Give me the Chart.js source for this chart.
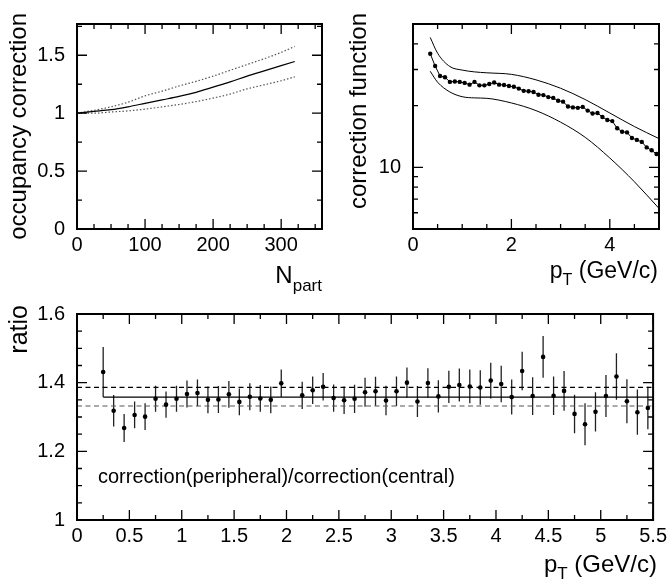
<!DOCTYPE html>
<html>
<head>
<meta charset="utf-8">
<title>Correction functions</title>
<script src="https://cdn.jsdelivr.net/npm/chart.js@4.4.1/dist/chart.umd.min.js"></script>
<style>
    html, body { margin: 0; padding: 0; background: #fff; }
    #page { position: relative; width: 671px; height: 581px; overflow: hidden; font-family: "Liberation Sans", Arial, sans-serif; color: #000; }
    canvas { position: absolute; }
    .label { position: absolute; line-height: 1; white-space: nowrap; }
    .sub { position: relative; }
    .vtitle { width: 250px; text-align: right; transform-origin: 0 0; transform: rotate(-90deg); }
</style>
</head>
<body>
<div id="page">
    <canvas id="occupancyChart" width="340" height="290" style="left:0;top:0"></canvas>
    <canvas id="correctionChart" width="331" height="290" style="left:340px;top:0"></canvas>
    <canvas id="ratioChart" width="671" height="291" style="left:0;top:290px"></canvas>

    <div class="label vtitle" style="left:6px;top:263px;font-size:24px">occupancy correction</div>
    <div class="label vtitle" style="left:346px;top:263px;font-size:24px">correction function</div>
    <div class="label vtitle" style="left:6px;top:555px;font-size:25px">ratio</div>

    <div class="label" style="right:349px;top:263px;font-size:24px">N<span class="sub" style="font-size:17px;top:8px">part</span></div>
    <div class="label" style="right:13px;top:259px;font-size:23px">p<span class="sub" style="font-size:16px;top:7px">T</span> (GeV/c)</div>
    <div class="label" style="right:14px;top:552px;font-size:24px">p<span class="sub" style="font-size:17px;top:7px">T</span> (GeV/c)</div>
    <div class="label" style="left:98px;top:466px;font-size:20px">correction(peripheral)/correction(central)</div>
</div>

<script>
// =========================
// Data
// =========================

// occupancy correction vs N_part
const nPart = [0, 25, 50, 75, 100, 125, 150, 175, 200, 225, 250, 275, 300, 320];
const occUpper = [1.0, 1.025, 1.055, 1.095, 1.15, 1.19, 1.235, 1.275, 1.32, 1.37, 1.42, 1.47, 1.525, 1.576];
const occCentral = [1.0, 1.015, 1.03, 1.055, 1.085, 1.115, 1.145, 1.18, 1.225, 1.27, 1.32, 1.365, 1.41, 1.446];
const occLower = [1.0, 1.0, 1.01, 1.02, 1.035, 1.055, 1.075, 1.10, 1.13, 1.165, 1.21, 1.245, 1.28, 1.314];
const occXTicks = [0, 100, 200, 300];
const occYTicks = [0, 0.5, 1, 1.5];

// correction function vs pT
const corrPt = [0.35, 0.45, 0.55, 0.65, 0.75, 0.85, 0.95,
    1.05, 1.15, 1.25, 1.35, 1.45, 1.55, 1.65, 1.75, 1.85, 1.95,
    2.05, 2.15, 2.25, 2.35, 2.45, 2.55, 2.65, 2.75, 2.85, 2.95,
    3.05, 3.15, 3.25, 3.35, 3.45, 3.55, 3.65, 3.75, 3.85, 3.95,
    4.05, 4.15, 4.25, 4.35, 4.45, 4.55, 4.65, 4.75, 4.85, 4.95];
const corrValues = [35.8, 31.2, 27.9, 27.5, 26.1, 26.2, 26.1,
    25.8, 25.3, 26.1, 25.1, 25.1, 25.5, 25.9, 25.3, 25.2, 24.9,
    24.7, 24.2, 23.6, 23.5, 23.3, 22.6, 22.5, 22.0, 21.8, 21.1,
    20.9, 19.8, 19.6, 19.5, 19.7, 18.9, 18.3, 18.4, 17.6, 17.0,
    16.8, 15.5, 14.9, 14.8, 13.9, 13.6, 13.3, 12.5, 12.1, 11.6];
const bandPt = [0.35, 0.5, 0.75, 1.0, 1.25, 1.5, 2.0, 2.5, 3.0, 3.5, 4.0, 4.5, 5.0];
const bandUpper = [43.0, 36.0, 31.0, 29.8, 29.2, 28.9, 28.4, 26.7, 24.3, 21.4, 18.4, 15.8, 13.8];
const bandLower = [29.4, 26.0, 23.3, 22.1, 21.8, 21.7, 20.6, 18.9, 16.6, 14.0, 11.1, 8.5, 6.3];
const corrXTicks = [0, 2, 4];
const corrYTicks = [10];
const corrYMinor = [5, 6, 7, 8, 9, 20, 30, 40];

// ratio peripheral / central
const ratioPt = [0.25, 0.35, 0.45, 0.55, 0.65, 0.75, 0.85, 0.95,
    1.05, 1.15, 1.25, 1.35, 1.45, 1.55, 1.65, 1.75, 1.85, 1.95,
    2.15, 2.25, 2.35, 2.45, 2.55, 2.65, 2.75, 2.85, 2.95,
    3.05, 3.15, 3.25, 3.35, 3.45, 3.55, 3.65, 3.75, 3.85, 3.95,
    4.05, 4.15, 4.25, 4.35, 4.45, 4.55, 4.65, 4.75, 4.85, 4.95,
    5.05, 5.15, 5.25, 5.35, 5.45];
const ratioValues = [1.431, 1.318, 1.268, 1.306, 1.301, 1.353, 1.336, 1.353,
    1.367, 1.370, 1.350, 1.351, 1.366, 1.344, 1.359, 1.354, 1.350, 1.398,
    1.363, 1.378, 1.388, 1.355, 1.349, 1.353, 1.372, 1.375, 1.348,
    1.375, 1.400, 1.345, 1.399, 1.360, 1.388, 1.393, 1.389, 1.386, 1.406,
    1.396, 1.358, 1.434, 1.361, 1.475, 1.362, 1.376, 1.309, 1.279, 1.315,
    1.361, 1.418, 1.346, 1.314, 1.326];
const ratioErrors = [0.073, 0.046, 0.041, 0.039, 0.039, 0.038, 0.038, 0.038,
    0.039, 0.039, 0.039, 0.039, 0.039, 0.039, 0.039, 0.039, 0.039, 0.040,
    0.040, 0.040, 0.040, 0.040, 0.040, 0.041, 0.042, 0.042, 0.043,
    0.043, 0.044, 0.045, 0.043, 0.047, 0.047, 0.048, 0.049, 0.050, 0.052,
    0.053, 0.051, 0.056, 0.055, 0.061, 0.056, 0.058, 0.056, 0.061, 0.057,
    0.061, 0.068, 0.064, 0.066, 0.062];
const ratioFit = 1.358;
const ratioFitHigh = 1.386;
const ratioFitLow = 1.332;
const ratioXTicks = [0, 0.5, 1, 1.5, 2, 2.5, 3, 3.5, 4, 4.5, 5, 5.5];
const ratioYTicks = [1, 1.2, 1.4, 1.6];


document.addEventListener("DOMContentLoaded", function () {

    Chart.defaults.font.family = '"Liberation Sans", Arial, sans-serif';
    Chart.defaults.color = "#000";

    const tickFont = { size: 20 };

    // minor tick positions between two values
    function range(start, stop, step) {
        const out = [];
        for (let v = start; v <= stop + step / 1000; v += step) out.push(+v.toFixed(4));
        return out;
    }

    // frame with inward ticks on all four sides (ROOT style)
    function frameTicks(marks) {
        return {
            id: "frameTicks",
            afterDraw(chart) {
                const { ctx, chartArea: a, scales } = chart;
                ctx.save();
                ctx.strokeStyle = "#000";
                ctx.lineWidth = 1.3;
                ctx.beginPath();
                [["x", marks.xMajor, 10], ["x", marks.xMinor, 5], ["y", marks.yMajor, 10], ["y", marks.yMinor, 5]].forEach(([axis, values, len]) => {
                    values.forEach(v => {
                        const p = scales[axis].getPixelForValue(v);
                        if (axis === "x") {
                            if (p < a.left - 0.5 || p > a.right + 0.5) return;
                            ctx.moveTo(p, a.bottom); ctx.lineTo(p, a.bottom - len);
                            ctx.moveTo(p, a.top); ctx.lineTo(p, a.top + len);
                        } else {
                            if (p < a.top - 0.5 || p > a.bottom + 0.5) return;
                            ctx.moveTo(a.left, p); ctx.lineTo(a.left + len, p);
                            ctx.moveTo(a.right, p); ctx.lineTo(a.right - len, p);
                        }
                    });
                });
                ctx.stroke();
                ctx.lineWidth = 2;
                ctx.strokeRect(a.left, a.top, a.right - a.left, a.bottom - a.top);
                ctx.restore();
            }
        };
    }

    function xAxis(min, max, ticks, height) {
        return {
            type: "linear", min: min, max: max,
            grid: { display: false, drawTicks: false }, border: { display: false },
            ticks: { font: tickFont, padding: 4, maxRotation: 0, autoSkip: false, callback: v => String(v) },
            afterBuildTicks: s => { s.ticks = ticks.map(v => ({ value: v })); },
            afterFit: s => { s.height = height; }
        };
    }

    function yAxis(type, min, max, ticks, width) {
        return {
            type: type, min: min, max: max,
            grid: { display: false, drawTicks: false }, border: { display: false },
            ticks: { font: tickFont, padding: 12, autoSkip: false, callback: v => String(v) },
            afterBuildTicks: s => { s.ticks = ticks.map(v => ({ value: v })); },
            afterFit: s => { s.width = width; }
        };
    }

    const commonOptions = {
        responsive: false,
        animation: false,
        plugins: { legend: { display: false }, tooltip: { enabled: false } }
    };


    // =========================
    // Occupancy correction
    // =========================
    const occCanvas = document.getElementById("occupancyChart");

    if (occCanvas) {

        new Chart(occCanvas, {

            type: "line",

            data: {
                datasets: [{
                    data: nPart.map((n, i) => ({ x: n, y: occCentral[i] })),
                    borderColor: "#000",
                    borderWidth: 1.2,
                    pointRadius: 0,
                    cubicInterpolationMode: "monotone"
                }, {
                    data: nPart.map((n, i) => ({ x: n, y: occUpper[i] })),
                    borderColor: "#555",
                    borderWidth: 1.2,
                    borderDash: [1.5, 2],
                    pointRadius: 0,
                    cubicInterpolationMode: "monotone"
                }, {
                    data: nPart.map((n, i) => ({ x: n, y: occLower[i] })),
                    borderColor: "#555",
                    borderWidth: 1.2,
                    borderDash: [1.5, 2],
                    pointRadius: 0,
                    cubicInterpolationMode: "monotone"
                }]
            },

            options: {
                ...commonOptions,
                layout: { padding: { left: 0, top: 15, right: 18, bottom: 0 } },
                scales: {
                    x: xAxis(0, 360, occXTicks, 61),
                    y: yAxis("linear", 0, 1.77, occYTicks, 77)
                }
            },

            plugins: [frameTicks({
                xMajor: occXTicks, xMinor: range(0, 350, 25),
                yMajor: occYTicks, yMinor: range(0, 1.75, 0.25)
            })]
        });
    }


    // =========================
    // Correction function (log)
    // =========================
    const corrCanvas = document.getElementById("correctionChart");

    if (corrCanvas) {

        new Chart(corrCanvas, {

            type: "line",

            data: {
                datasets: [{
                    data: corrPt.map((p, i) => ({ x: p, y: corrValues[i] })),
                    borderColor: "#000",
                    borderWidth: 1,
                    pointRadius: 2.2,
                    pointBorderWidth: 0,
                    pointBackgroundColor: "#000"
                }, {
                    data: bandPt.map((p, i) => ({ x: p, y: bandUpper[i] })),
                    borderColor: "#000",
                    borderWidth: 1,
                    pointRadius: 0,
                    cubicInterpolationMode: "monotone"
                }, {
                    data: bandPt.map((p, i) => ({ x: p, y: bandLower[i] })),
                    borderColor: "#000",
                    borderWidth: 1,
                    pointRadius: 0,
                    cubicInterpolationMode: "monotone"
                }]
            },

            options: {
                ...commonOptions,
                layout: { padding: { left: 0, top: 12, right: 12, bottom: 0 } },
                scales: {
                    x: xAxis(0, 5, corrXTicks, 61),
                    y: yAxis("logarithmic", 5, 50, corrYTicks, 73)
                }
            },

            plugins: [frameTicks({
                xMajor: corrXTicks, xMinor: range(0, 5, 0.5),
                yMajor: corrYTicks, yMinor: corrYMinor
            })]
        });
    }


    // =========================
    // Ratio with error bars
    // =========================
    const ratioCanvas = document.getElementById("ratioChart");

    const errorBars = {
        id: "errorBars",
        beforeDatasetsDraw(chart) {
            const { ctx, scales: { x, y } } = chart;
            ctx.save();
            ctx.strokeStyle = "#222";
            ctx.lineWidth = 1.3;
            ctx.beginPath();
            ratioPt.forEach((pt, i) => {
                const px = x.getPixelForValue(pt);
                ctx.moveTo(px, y.getPixelForValue(ratioValues[i] - ratioErrors[i]));
                ctx.lineTo(px, y.getPixelForValue(ratioValues[i] + ratioErrors[i]));
            });
            ctx.stroke();
            ctx.restore();
        }
    };

    if (ratioCanvas) {

        new Chart(ratioCanvas, {

            type: "line",

            data: {
                datasets: [{
                    data: ratioPt.map((p, i) => ({ x: p, y: ratioValues[i] })),
                    showLine: false,
                    pointRadius: 2.3,
                    pointBorderWidth: 0,
                    pointBackgroundColor: "#000"
                }, {
                    data: [{ x: 0.25, y: ratioFit }, { x: 5.5, y: ratioFit }],
                    borderColor: "#000",
                    borderWidth: 1.3,
                    pointRadius: 0
                }, {
                    data: [{ x: 0, y: ratioFitHigh }, { x: 5.5, y: ratioFitHigh }],
                    borderColor: "#000",
                    borderWidth: 1.2,
                    borderDash: [5, 3.5],
                    pointRadius: 0
                }, {
                    data: [{ x: 0, y: ratioFitLow }, { x: 5.5, y: ratioFitLow }],
                    borderColor: "#555",
                    borderWidth: 1.2,
                    borderDash: [5, 3.5],
                    pointRadius: 0
                }]
            },

            options: {
                ...commonOptions,
                layout: { padding: { left: 0, top: 12, right: 12, bottom: 0 } },
                scales: {
                    x: xAxis(0, 5.5, ratioXTicks, 61),
                    y: yAxis("linear", 1, 1.6, ratioYTicks, 77)
                }
            },

            plugins: [errorBars, frameTicks({
                xMajor: ratioXTicks, xMinor: range(0, 5.5, 0.25),
                yMajor: ratioYTicks, yMinor: range(1, 1.6, 0.05)
            })]
        });
    }

});
</script>
</body>
</html>
